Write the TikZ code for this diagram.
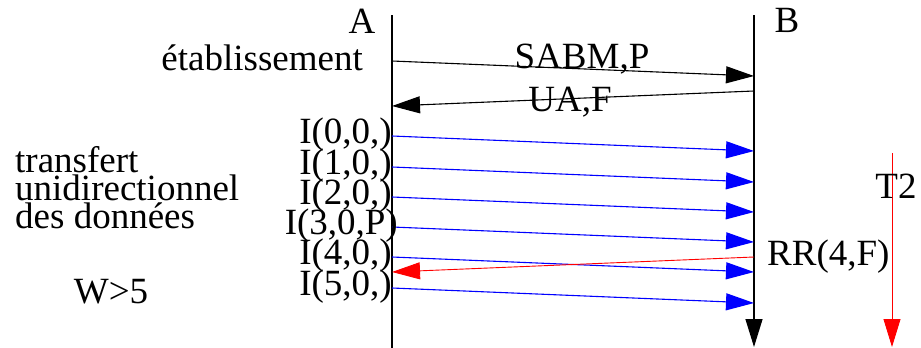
\documentclass[tikz,border=0pt]{standalone}
\usepackage{fontspec}
\setmainfont{Liberation Serif}
\usetikzlibrary{arrows.meta}

\begin{document}
\begin{tikzpicture}[x=1pt, y=-1pt, >={Triangle[length=28pt,width=17pt]},
    lbl/.style={font=\fontsize{37}{28}\selectfont, inner sep=0pt},
    msg/.style={->, line width=1.1pt},
    life/.style={line width=1.3pt}]
    \useasboundingbox (0,0) rectangle (921,348);
    \coordinate (topA) at (392,15);
    \coordinate (botA) at (392,348);
    \coordinate (topB) at (754,15);
    \coordinate (botB) at (754,347);
    \draw[life] (topA) -- (botA);
    \draw[life, ->] (topB) -- (botB);
    \node[lbl, anchor=base] (A) at (362,33) {A};
    \node[lbl, anchor=base] (B) at (787,32) {B};
    \node[lbl, anchor=base east] (etab) at (363,70) {établissement};
    \coordinate (sabmA) at (392,61);
    \coordinate (sabmB) at (754,76);
    \coordinate (uaB) at (754,91);
    \coordinate (uaA) at (392,106);
    \draw[msg] (sabmA) -- (sabmB);
    \draw[msg] (uaB) -- (uaA);
    \node[lbl, anchor=base] (sabm) at (582,68) {SABM,P};
    \node[lbl, anchor=base] (ua) at (570,111) {UA,F};
    \foreach \i/\ya/\xr/\txt in {0/136/392/{I(0,0,)}, 1/167/392/{I(1,0,)}, 2/197/392/{I(2,0,)},
                                 3/227/398/{I(3,0,P)}, 4/257/392/{I(4,0,)}, 5/288/392/{I(5,0,)}} {
        \coordinate (iA\i) at (392,\ya);
        \coordinate (iB\i) at (754,\ya+15);
        \draw[msg, blue] (iA\i) -- (iB\i);
        \node[lbl, anchor=base east] (li\i) at (\xr,\ya+7) {\txt};
    }
    \coordinate (rrB) at (754,257);
    \coordinate (rrA) at (392,272);
    \draw[msg, red, line width=0.9pt] (rrB) -- (rrA);
    \node[lbl, anchor=base west] (rr) at (767,265) {RR(4,F)};
    \coordinate (t2top) at (892,153);
    \coordinate (t2bot) at (892,347);
    \draw[msg, red, line width=0.9pt] (t2top) -- (t2bot);
    \node[lbl, anchor=base] (t2) at (896,198) {T2};
    \foreach \n/\yb/\txt in {1/172/transfert, 2/200/unidirectionnel, 3/228/des données} {
        \node[lbl, anchor=base west] (trans\n) at (15,\yb) {\txt};
    }
    \node[lbl, anchor=base] (win) at (111,303) {W>5};
\end{tikzpicture}
\end{document}
